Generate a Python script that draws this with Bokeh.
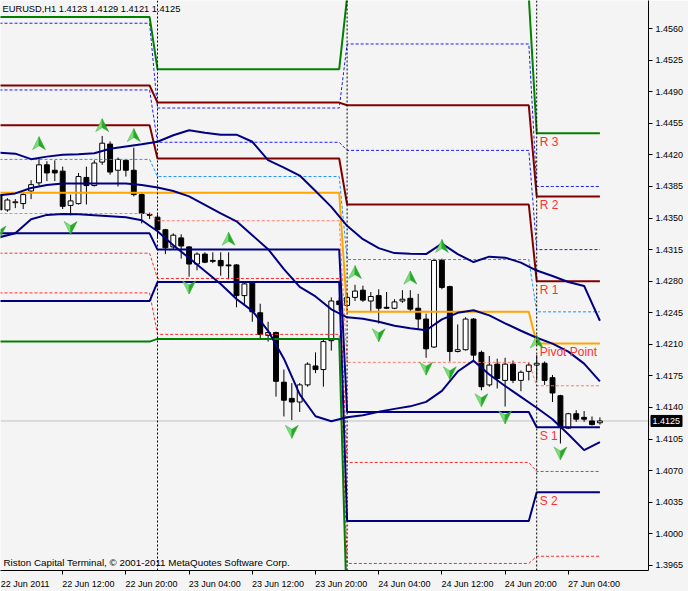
import numpy as np
from bokeh.plotting import figure
from bokeh.models import (Range1d, FixedTicker, Span, NumeralTickFormatter,
                          ColumnDataSource, CustomJSTickFormatter)
from bokeh.core.properties import value
from bokeh.embed import file_html
from bokeh.resources import INLINE

# ---------------- data ----------------
symbol_title = "EURUSD,H1  1.4123 1.4129 1.4121 1.4125"
copyright_text = "Riston Capital Terminal, \u00a9 2001-2011 MetaQuotes Software Corp."

opens = [1.4376, 1.4359, 1.4367, 1.4366, 1.4380, 1.4389, 1.4409, 1.4403, 1.4402, 1.4364,
         1.4366, 1.4395, 1.4386, 1.4412, 1.4432, 1.4403, 1.4414, 1.4403, 1.4376, 1.4354,
         1.4351, 1.4337, 1.4318, 1.4328, 1.4318, 1.4299, 1.4310, 1.4303, 1.4303, 1.4298,
         1.4298, 1.4264, 1.4278, 1.4245, 1.4220, 1.4223, 1.4168, 1.4150, 1.4146, 1.4165,
         1.4186, 1.4182, 1.4214, 1.4258, 1.4253, 1.4262, 1.4270, 1.4258, 1.4264, 1.4251,
         1.4250, 1.4258, 1.4261, 1.4250, 1.4238, 1.4207, 1.4303, 1.4274, 1.4202, 1.4204,
         1.4238, 1.4201, 1.4165, 1.4188, 1.4170, 1.4188, 1.4170, 1.4180, 1.4187, 1.4189,
         1.4173, 1.4153, 1.4117, 1.4133, 1.4129, 1.4125, 1.4123]
highs = [1.4378, 1.4372, 1.4371, 1.4379, 1.4392, 1.4417, 1.4413, 1.4414, 1.4407, 1.4376,
         1.4400, 1.4407, 1.4414, 1.4441, 1.4435, 1.4417, 1.4415, 1.4428, 1.4378, 1.4356,
         1.4354, 1.4338, 1.4333, 1.4332, 1.4319, 1.4312, 1.4312, 1.4312, 1.4312, 1.4312,
         1.4299, 1.4279, 1.4279, 1.4255, 1.4235, 1.4224, 1.4182, 1.4167, 1.4167, 1.4190,
         1.4201, 1.4217, 1.4262, 1.4262, 1.4266, 1.4276, 1.4275, 1.4268, 1.4271, 1.4268,
         1.4260, 1.4270, 1.4270, 1.4266, 1.4244, 1.4305, 1.4305, 1.4275, 1.4232, 1.4240,
         1.4239, 1.4203, 1.4197, 1.4194, 1.4195, 1.4192, 1.4181, 1.4190, 1.4198, 1.4191,
         1.4176, 1.4154, 1.4134, 1.4137, 1.4136, 1.4130, 1.4129]
lows = [1.4358, 1.4357, 1.4361, 1.4360, 1.4371, 1.4386, 1.4391, 1.4391, 1.4360, 1.4353,
        1.4365, 1.4365, 1.4385, 1.4409, 1.4398, 1.4385, 1.4396, 1.4374, 1.4344, 1.4349,
        1.4327, 1.4310, 1.4315, 1.4305, 1.4285, 1.4292, 1.4300, 1.4300, 1.4286, 1.4282,
        1.4251, 1.4253, 1.4235, 1.4216, 1.4213, 1.4152, 1.4130, 1.4126, 1.4135, 1.4163,
        1.4178, 1.4163, 1.4203, 1.4247, 1.4251, 1.4258, 1.4257, 1.4247, 1.4233, 1.4249,
        1.4249, 1.4256, 1.4247, 1.4227, 1.4195, 1.4206, 1.4271, 1.4191, 1.4201, 1.4203,
        1.4191, 1.4159, 1.4163, 1.4161, 1.4141, 1.4167, 1.4158, 1.4170, 1.4170, 1.4165,
        1.4146, 1.4100, 1.4116, 1.4124, 1.4124, 1.4120, 1.4121]
closes = [1.4359, 1.4370, 1.4368, 1.4376, 1.4387, 1.4409, 1.4400, 1.4400, 1.4363, 1.4369,
          1.4396, 1.4386, 1.4411, 1.4433, 1.4401, 1.4415, 1.4403, 1.4376, 1.4355, 1.4353,
          1.4337, 1.4317, 1.4331, 1.4319, 1.4299, 1.4310, 1.4301, 1.4302, 1.4297, 1.4297,
          1.4264, 1.4277, 1.4246, 1.4221, 1.4223, 1.4169, 1.4148, 1.4146, 1.4165, 1.4188,
          1.4182, 1.4213, 1.4258, 1.4254, 1.4262, 1.4269, 1.4259, 1.4263, 1.4250, 1.4250,
          1.4257, 1.4260, 1.4249, 1.4238, 1.4205, 1.4303, 1.4273, 1.4202, 1.4204, 1.4238,
          1.4198, 1.4163, 1.4187, 1.4172, 1.4188, 1.4170, 1.4179, 1.4187, 1.4189, 1.4170,
          1.4156, 1.4119, 1.4133, 1.4127, 1.4127, 1.4121, 1.4125]

# trading days: 22 Jun (from 04:00), 23 Jun, 24 Jun, 27 Jun (to 08:00)
day_first_bar = [0, 20, 44, 68]
day_bar_count = [20, 24, 24, 9]

# daily pivot levels (solid lines)
r3 = [1.4573, 1.4515, 1.4595, 1.4444]
r2 = [1.4497, 1.4478, 1.4475, 1.4374]
r1 = [1.4453, 1.4416, 1.4365, 1.4280]
pp = [1.4378, 1.4378, 1.4246, 1.4211]
s1 = [1.4333, 1.4315, 1.4135, 1.4118]
s2 = [1.4258, 1.4279, 1.4014, 1.4046]
s3 = [1.4213, 1.4216, 1.3905, 1.3956]

# secondary levels (dotted lines)
mid_r3 = [1.4566, 1.4472, 1.4543, 1.4385]
mid_r2 = [1.4492, 1.4434, 1.4425, 1.4315]
mid_r1 = [1.4415, 1.4396, 1.4304, 1.4246]
mid_s1 = [1.4355, 1.4347, 1.4190, 1.4164]
mid_s2 = [1.4311, 1.4283, 1.4079, 1.4069]
mid_s3 = [1.4267, 1.4221, 1.3967, 1.3975]

# bands, read every second bar
band_bars = list(range(0, 77, 2))
band_upper = [1.44225, 1.44214, 1.44153, 1.44181, 1.44203, 1.44208, 1.44219, 1.44269, 1.44294, 1.44319,
              1.44346, 1.44418, 1.44473, 1.44446, 1.44424, 1.44424, 1.44346, 1.44142, 1.44059, 1.43971,
              1.43800, 1.43624, 1.43414, 1.43265, 1.43166, 1.43111, 1.43105, 1.43100, 1.43216, 1.43100,
              1.43012, 1.43072, 1.43061, 1.43006, 1.42918, 1.42857, 1.42791, 1.42747, 1.42361]
band_middle = [1.43751, 1.43773, 1.43833, 1.43866, 1.43883, 1.43883, 1.43883, 1.43883, 1.43883, 1.43866,
               1.43839, 1.43800, 1.43740, 1.43646, 1.43552, 1.43464, 1.43309, 1.43155, 1.42934, 1.42736,
               1.42631, 1.42488, 1.42399, 1.42383, 1.42350, 1.42306, 1.42278, 1.42256, 1.42377, 1.42449,
               1.42477, 1.42421, 1.42333, 1.42250, 1.42173, 1.42107, 1.42019, 1.41886, 1.41688]
band_lower = [1.43287, 1.43331, 1.43486, 1.43535, 1.43546, 1.43541, 1.43530, 1.43519, 1.43508, 1.43475,
              1.43353, 1.43199, 1.43056, 1.42912, 1.42769, 1.42603, 1.42471, 1.42250, 1.41941, 1.41544,
              1.41302, 1.41247, 1.41291, 1.41313, 1.41351, 1.41384, 1.41412, 1.41462, 1.41583, 1.41798,
              1.41919, 1.41765, 1.41638, 1.41517, 1.41396, 1.41269, 1.41103, 1.40927, 1.41015]

fractal_up_bar = [5, 13, 17, 29, 45, 52, 56, 68]
fractal_up_price = [1.4433, 1.4453, 1.4442, 1.4327, 1.4290, 1.4284, 1.4319, 1.4213]
fractal_dn_bar = [0, 9, 24, 37, 48, 54, 57, 61, 64, 71]
fractal_dn_price = [1.4334, 1.4339, 1.4273, 1.4113, 1.4220, 1.4183, 1.4178, 1.4148, 1.4129, 1.4089]

time_tick_bar = [0, 8, 16, 24, 32, 40, 48, 56, 64, 72]
time_tick_label = ["22 Jun 2011", "22 Jun 12:00", "22 Jun 20:00", "23 Jun 04:00", "23 Jun 12:00",
                   "23 Jun 20:00", "24 Jun 04:00", "24 Jun 12:00", "24 Jun 20:00", "27 Jun 04:00"]
price_ticks = [1.3965, 1.4000, 1.4035, 1.4070, 1.4105, 1.4140, 1.4175, 1.4210, 1.4245,
               1.4280, 1.4315, 1.4350, 1.4385, 1.4420, 1.4455, 1.4490, 1.4525, 1.4560]
last_price = 1.4125
level_labels = ["R 3", "R 2", "R 1", "Pivot Point", "S 1", "S 2"]

# ---------------- figure ----------------
W, H = 688, 591
RB, BB = 40, 18
FW, FH = W - RB, H - BB
X0, X1 = 0.127, 82.15
Y0, Y1 = 1.39592, 1.45912
BG = "#f4f4f4"
FONT = "Liberation Sans"

p = figure(width=W, height=H, output_backend="svg", toolbar_location=None,
           x_range=Range1d(X0, X1), y_range=Range1d(Y0, Y1), y_axis_location="right",
           min_border_left=0, min_border_top=0, min_border_right=RB, min_border_bottom=BB,
           background_fill_color=BG, border_fill_color=BG)
p.outline_line_color = None
p.grid.visible = False

yax = p.yaxis[0]
yax.ticker = FixedTicker(ticks=price_ticks)
yax.formatter = NumeralTickFormatter(format="0.0000")
yax.major_tick_out = 4
yax.major_tick_in = 0
yax.minor_tick_line_color = None
yax.major_label_standoff = 3
yax.axis_line_color = "black"
yax.major_tick_line_color = "black"
yax.major_label_text_font = FONT
yax.major_label_text_font_size = "9px"
yax.major_label_text_color = "black"

xax = p.xaxis[0]
label_pos = [b + 3.25 for b in time_tick_bar]
xax.ticker = FixedTicker(ticks=label_pos, minor_ticks=time_tick_bar)
xax.formatter = CustomJSTickFormatter(args=dict(pos=label_pos, labs=time_tick_label), code="""
const k = pos.findIndex(q => Math.abs(q - tick) < 1e-6);
return k >= 0 ? labs[k] : "";
""")
xax.major_tick_line_color = None
xax.minor_tick_line_color = "black"
xax.minor_tick_out = 4
xax.minor_tick_in = 0
xax.major_label_standoff = 2
xax.axis_line_color = "black"
xax.major_label_text_font = FONT
xax.major_label_text_font_size = "9px"
xax.major_label_text_color = "black"

# separators and last price line
for b in day_first_bar[1:]:
    p.add_layout(Span(location=b, dimension="height", line_color="black",
                      line_dash="2 2", line_width=1))
p.add_layout(Span(location=last_price, dimension="width", line_color="#c0c0c0",
                  line_width=1, level="underlay"))

# candles
bars = np.arange(len(opens))
o = np.array(opens); c = np.array(closes)
src = ColumnDataSource(dict(x=bars, high=highs, low=lows,
                            top=np.maximum(o, c), bottom=np.minimum(o, c),
                            fill=["white" if cc >= oo else "black" for oo, cc in zip(opens, closes)]))
p.segment(x0="x", y0="high", x1="x", y1="low", source=src, line_color="black", line_width=1)
p.vbar(x="x", width=0.62, top="top", bottom="bottom", fill_color="fill",
       line_color="black", line_width=1, source=src)

def per_bar(levels):
    return np.repeat(levels, day_bar_count)

# dotted secondary levels
for lv, col in [(mid_r3, "#1a1aff"), (mid_r2, "#1a1aff"), (mid_r1, "#1e90ff"),
                (mid_s1, "#ff7a6a"), (mid_s2, "#ff2a2a"), (mid_s3, "#ff2a2a")]:
    p.line(bars, per_bar(lv), line_color=col, line_width=1, line_dash="3 2")

# solid pivot levels
for lv, col in [(r3, "#008000"), (r2, "#800000"), (r1, "#800000"), (pp, "#ffa500"),
                (s1, "#000080"), (s2, "#000080"), (s3, "#008000")]:
    p.line(bars, per_bar(lv), line_color=col, line_width=2)

# bands
for band in (band_upper, band_middle, band_lower):
    p.line(band_bars, band, line_color="#000080", line_width=2)

# fractal arrows
sx = (X1 - X0) / FW
sy = (Y1 - Y0) / FH
def arrow_halves(bx, by, up):
    s = 1 if up else -1
    lx, ly, rx, ry = [], [], [], []
    for x, y in zip(bx, by):
        tip = (x, y + s * 6.5 * sy)
        notch = (x, y - s * 2.5 * sy)
        left = (x - 6.5 * sx, y - s * 6.5 * sy)
        right = (x + 6.5 * sx, y - s * 6.5 * sy)
        lx.append([tip[0], notch[0], left[0]]); ly.append([tip[1], notch[1], left[1]])
        rx.append([tip[0], right[0], notch[0]]); ry.append([tip[1], right[1], notch[1]])
    return lx, ly, rx, ry

for bx, by, up in [(fractal_up_bar, fractal_up_price, True), (fractal_dn_bar, fractal_dn_price, False)]:
    lx, ly, rx, ry = arrow_halves(bx, by, up)
    p.patches(lx, ly, fill_color="#7ddc7d", line_color="#3cb43c", line_width=0.5)
    p.patches(rx, ry, fill_color="#28a828", line_color="#28a828", line_width=0.5)

# level labels on the last day
last = -1
p.text(x=[day_first_bar[last]] * 6,
       y=[r3[last], r2[last], r1[last], pp[last], s1[last], s2[last]],
       text=level_labels, text_color="#ff3030", text_font=value(FONT),
       text_font_size="12px", text_baseline="top", x_offset=3, y_offset=2)

# header and footer texts
p.text(x=[X0], y=[Y1], text=[symbol_title], text_color="black", text_font=value(FONT),
       text_font_size="9.3px", text_baseline="top", x_offset=2, y_offset=3)
p.text(x=[X0], y=[Y0], text=[copyright_text], text_color="black", text_font=value(FONT),
       text_font_size="9.8px", text_baseline="bottom", x_offset=3, y_offset=-3)

# current price box on the price scale
p.rect(x=[X1 + 18 * sx], y=[last_price], width=31, height=11,
       width_units="screen", height_units="screen", fill_color="black",
       line_color="black", level="overlay")
p.text(x=[X1], y=[last_price], text=[f"{last_price:.4f}"], x_offset=4,
       text_baseline="middle", text_color="white", text_font=value(FONT),
       text_font_size="9px", level="overlay")

open("out.html", "w").write(file_html(p, INLINE))
